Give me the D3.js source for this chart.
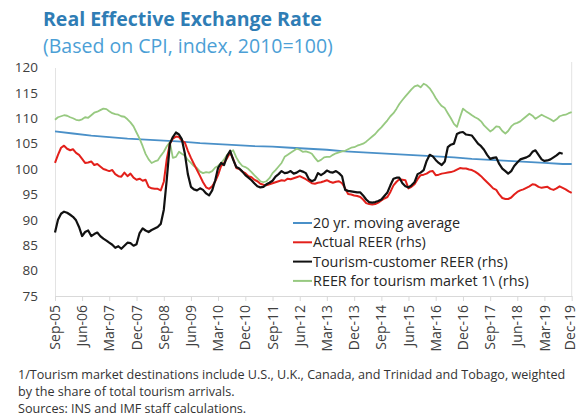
<!DOCTYPE html>
<html>
<head>
<meta charset="utf-8">
<script src="https://cdn.jsdelivr.net/npm/d3@7"></script>
<style>
  body { margin: 0; background: #fff; }
  svg { display: block; font-family: "Open Sans", sans-serif; }
</style>
</head>
<body>
<svg id="chart" width="579" height="417"></svg>
<script>
// monthly series start in Sep-05
const startMonth = "Sep-05";

const actualReer = [
  101.2, 102.8, 104.2, 104.6, 104.0, 103.7, 103.9, 103.2, 102.8, 102.0, 101.2, 101.3,
  101.5, 100.8, 101.0, 100.5, 100.0, 99.8, 99.6, 99.8, 99.0, 98.6, 98.5, 99.3,
  98.6, 99.1, 98.3, 97.9, 98.1, 97.7, 97.9, 96.5, 96.2, 96.1, 96.1, 95.8,
  97.5, 102.0, 105.0, 106.0, 106.4, 106.3, 105.6, 105.2, 103.6, 102.2, 101.0, 99.8,
  98.6, 97.4, 96.4, 96.1, 96.6, 97.6, 98.8, 100.6, 101.2, 102.2, 103.2, 102.0,
  100.2, 100.0, 99.5, 99.2, 98.6, 98.4, 97.9, 97.6, 97.1, 96.9, 96.8, 97.0,
  97.2, 97.4, 97.6, 97.8, 97.7, 98.1, 98.0, 98.2, 98.4, 98.6, 98.3, 98.0,
  97.6, 97.2, 97.1, 97.3, 97.4, 97.6, 97.8, 97.5, 97.3, 97.5, 97.6, 97.2,
  96.2, 95.1, 95.0, 94.8, 94.7, 94.5, 94.0, 93.3, 93.1, 93.0, 93.1, 93.4,
  93.8, 94.2, 94.5, 95.5, 96.8, 97.5, 98.0, 97.9, 97.8, 96.2, 96.5, 97.0,
  98.0, 98.8, 98.9, 99.1, 99.5, 99.6, 98.8, 98.9, 99.1, 99.2, 99.3, 99.4,
  99.6, 99.9, 100.2, 100.1, 100.1, 99.9, 99.8, 99.5, 99.1, 98.6, 98.0, 97.4,
  96.8, 96.2, 95.9, 95.0, 94.3, 94.1, 94.1, 94.4, 95.0, 95.5, 95.8, 96.0,
  96.3, 96.6, 97.0, 96.9, 96.5, 96.3, 96.4, 96.5, 96.1, 95.9, 96.2, 96.6,
  96.3, 96.0, 95.6, 95.3
];

const tourismReer = [
  87.5, 90.0, 91.2, 91.6, 91.4, 91.0, 90.6, 89.9, 88.6, 86.8, 87.6, 87.9,
  86.8, 87.2, 87.5, 86.8, 86.3, 85.9, 85.5, 85.1, 84.5, 84.8, 84.3, 84.9,
  85.5, 85.4, 84.9, 85.2, 87.4, 88.3, 87.9, 87.6, 88.0, 88.3, 88.6, 89.2,
  92.0, 98.0, 105.0, 106.3, 107.2, 106.8, 105.9, 103.0, 99.0, 96.5, 96.0, 95.8,
  96.2, 95.9, 95.2, 94.8, 95.8, 97.8, 100.2, 101.2, 100.8, 102.6, 103.6, 101.8,
  100.4, 100.1, 99.5, 98.8, 98.3, 97.8, 97.2, 96.6, 96.4, 96.5, 97.0, 97.3,
  97.7, 98.5, 99.0, 99.6, 99.2, 99.3, 99.6, 99.1, 99.3, 99.7, 99.5, 99.2,
  98.0, 97.6, 97.9, 99.2, 98.8, 99.2, 99.7, 99.4, 99.3, 99.6, 99.2, 98.6,
  95.9, 95.7, 95.6, 95.5, 95.4, 95.4, 94.8, 94.0, 93.5, 93.4, 93.5, 93.7,
  94.0, 94.7, 95.4, 96.8, 98.1, 98.3, 98.3, 97.2, 96.6, 96.4, 96.8, 97.4,
  99.0, 99.3, 99.8, 101.6, 102.8, 102.5, 101.8, 101.2, 100.8, 101.5, 104.3, 104.8,
  105.0, 106.9, 107.2, 107.3, 106.8, 106.7, 106.6, 105.8, 105.0, 104.5, 103.8, 102.8,
  102.0, 102.2, 102.3, 101.0, 100.1, 99.6, 99.1, 99.6, 100.6, 101.3, 101.9, 102.1,
  102.3, 102.6, 103.4, 103.7, 102.8, 101.9, 101.6, 101.7, 101.9, 102.3, 102.7, 103.2,
  103.0
];

const marketReer = [
  109.7, 110.2, 110.4, 110.6, 110.5, 110.2, 110.0, 109.7, 109.6, 109.8, 110.2, 110.1,
  110.6, 111.1, 111.3, 111.6, 111.9, 111.8, 111.4, 111.0, 110.8, 110.7, 110.4, 110.3,
  109.8, 109.2, 108.4, 107.2, 106.0, 104.5, 103.0, 101.9, 101.2, 101.5, 101.7, 102.6,
  103.4, 104.5, 105.3, 102.2, 102.4, 103.4, 103.0, 102.6, 101.8, 101.2, 100.6, 100.2,
  99.5, 99.2, 99.4, 99.3, 99.6, 100.3, 100.6, 101.2, 101.9, 102.8, 103.3, 103.7,
  102.3, 101.3, 100.6, 100.4, 100.0, 99.4, 98.8, 98.2, 97.6, 97.4, 97.6, 98.2,
  99.2, 99.8, 100.5, 101.2, 102.4, 102.8, 103.2, 103.6, 104.0, 103.8, 103.4, 103.5,
  103.3, 103.0, 102.2, 101.5, 101.8, 102.3, 102.4, 102.4, 102.8, 103.1, 103.3, 103.5,
  103.6, 103.9, 104.2, 104.3, 104.6, 104.8, 105.0, 105.4, 105.9, 106.4, 106.9, 107.6,
  108.2, 108.9, 109.6, 110.4, 111.0, 111.9, 112.8, 113.6, 114.3, 115.0, 115.7, 116.3,
  116.5, 116.1, 116.8, 116.5, 115.9, 115.0, 114.0, 113.1, 112.4, 112.0, 111.0, 110.0,
  108.9, 108.3, 110.2, 111.9, 111.4, 111.0, 110.6, 110.2, 109.9, 109.4, 108.6, 108.0,
  107.4, 107.8, 108.4, 108.3, 107.5, 107.0, 107.5, 108.4, 108.9, 109.1, 109.4, 109.9,
  110.4, 110.9, 110.5, 109.9, 110.3, 110.7, 110.4, 110.1, 109.8, 109.4, 109.8, 110.4,
  110.6, 110.7, 111.0, 111.2
];

// 20 yr moving average, read every six months
const maDates = [
  "Sep-05", "Mar-06", "Sep-06", "Mar-07", "Sep-07", "Mar-08", "Sep-08", "Mar-09",
  "Sep-09", "Mar-10", "Sep-10", "Mar-11", "Sep-11", "Mar-12", "Sep-12", "Mar-13",
  "Sep-13", "Mar-14", "Sep-14", "Mar-15", "Sep-15", "Mar-16", "Sep-16", "Mar-17",
  "Sep-17", "Mar-18", "Sep-18", "Mar-19", "Sep-19", "Dec-19"
];
const maValues = [
  107.4, 107.0, 106.6, 106.3, 106.0, 105.8, 105.6, 105.4,
  105.1, 104.9, 104.7, 104.5, 104.4, 104.2, 104.0, 103.8,
  103.5, 103.3, 103.1, 102.9, 102.7, 102.5, 102.3, 102.0,
  101.8, 101.6, 101.4, 101.2, 101.0, 101.0
];

const tickLabels = [
  "Sep-05", "Jun-06", "Mar-07", "Dec-07", "Sep-08", "Jun-09", "Mar-10", "Dec-10",
  "Sep-11", "Jun-12", "Mar-13", "Dec-13", "Sep-14", "Jun-15", "Mar-16", "Dec-16",
  "Sep-17", "Jun-18", "Mar-19", "Dec-19"
];
const yTicks = [75, 80, 85, 90, 95, 100, 105, 110, 115, 120];

const legendItems = [
  { label: "20 yr. moving average", color: "#4a90c8" },
  { label: "Actual REER (rhs)", color: "#e3201b" },
  { label: "Tourism-customer REER (rhs)", color: "#111111" },
  { label: "REER for tourism market 1\\ (rhs)", color: "#97c980" }
];

const parse = d3.timeParse("%b-%y");
const start = parse(startMonth);
const monthly = vals => vals.map((v, i) => ({ date: d3.timeMonth.offset(start, i), value: v }));

const svg = d3.select("#chart");

// plot area
const plotLeft = 55, plotRight = 571.7, plotTop = 67.5, plotBottom = 296;

const x = d3.scaleTime()
  .domain([parse("Sep-05"), parse("Dec-19")])
  .range([plotLeft, plotRight]);
const y = d3.scaleLinear()
  .domain([75, 120])
  .range([plotBottom, plotTop]);

// titles
svg.append("text")
  .attr("x", 43).attr("y", 26)
  .attr("fill", "#2f7db5")
  .style("font-size", "19.5px")
  .style("font-weight", "bold")
  .text("Real Effective Exchange Rate");
svg.append("text")
  .attr("x", 43).attr("y", 53)
  .attr("fill", "#4c9fd6")
  .style("font-size", "19.5px")
  .text("(Based on CPI, index, 2010=100)");

// y axis
const yAxis = svg.append("g")
  .attr("transform", `translate(${plotLeft},0)`)
  .call(d3.axisLeft(y).tickValues(yTicks).tickSize(0).tickPadding(17));
yAxis.select(".domain").attr("stroke", "#e3e3e3");
yAxis.selectAll("text")
  .attr("fill", "#404040")
  .style("font-size", "13.5px")
  .style("font-family", "Open Sans, sans-serif");

// x axis
const xAxis = svg.append("g")
  .attr("transform", `translate(0,${plotBottom})`)
  .call(d3.axisBottom(x)
    .tickValues(tickLabels.map(parse))
    .tickFormat(d3.timeFormat("%b-%y"))
    .tickSize(5)
    .tickSizeOuter(0));
xAxis.select(".domain").attr("stroke", "#d9d9d9");
xAxis.selectAll(".tick line").attr("stroke", "#d9d9d9");
xAxis.selectAll("text")
  .attr("fill", "#404040")
  .style("font-size", "14px")
  .style("font-family", "Open Sans, sans-serif")
  .attr("transform", "rotate(-90)")
  .attr("text-anchor", "end")
  .attr("x", -9)
  .attr("y", 0)
  .attr("dy", (d, i) => i === tickLabels.length - 1 ? "0.17em" : "0.33em");

// right border
svg.append("line")
  .attr("x1", plotRight).attr("x2", plotRight)
  .attr("y1", 62).attr("y2", plotBottom)
  .attr("stroke", "#e3e3e3");

const line = d3.line()
  .x(d => x(d.date))
  .y(d => y(d.value));

const series = [
  { data: maDates.map((d, i) => ({ date: parse(d), value: maValues[i] })), color: legendItems[0].color, width: 1.8 },
  { data: monthly(marketReer), color: legendItems[3].color, width: 1.8 },
  { data: monthly(actualReer), color: legendItems[1].color, width: 2 },
  { data: monthly(tourismReer), color: legendItems[2].color, width: 2.2 }
];

svg.append("g")
  .selectAll("path")
  .data(series)
  .enter().append("path")
  .attr("fill", "none")
  .attr("stroke", d => d.color)
  .attr("stroke-width", d => d.width)
  .attr("stroke-linejoin", "round")
  .attr("d", d => line(d.data));

// legend
const legend = svg.append("g")
  .attr("transform", "translate(293,223)");
legendItems.forEach((item, i) => {
  legend.append("line")
    .attr("x1", 0).attr("x2", 19)
    .attr("y1", i * 19.3).attr("y2", i * 19.3)
    .attr("stroke", item.color)
    .attr("stroke-width", 2);
  legend.append("text")
    .attr("x", 20)
    .attr("y", i * 19.3)
    .attr("dy", "0.35em")
    .attr("fill", "#262626")
    .style("font-size", "14.4px")
    .text(item.label);
});

// notes
const notes = [
  "1/Tourism market destinations include U.S., U.K., Canada, and Trinidad and Tobago, weighted",
  "by the share of total tourism arrivals.",
  "Sources: INS and IMF staff calculations."
];
svg.append("g")
  .selectAll("text")
  .data(notes)
  .enter().append("text")
  .attr("x", 18)
  .attr("y", (d, i) => 379 + i * 17)
  .attr("fill", "#333")
  .style("font-size", "12.6px")
  .text(d => d);
</script>
</body>
</html>
